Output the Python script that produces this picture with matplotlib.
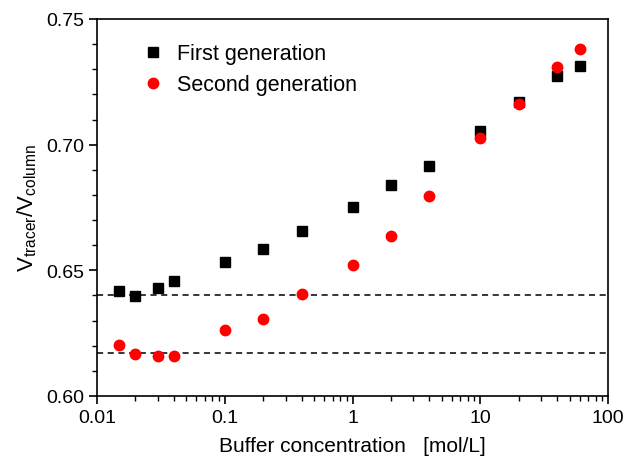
import numpy as np
import matplotlib.pyplot as plt
from matplotlib.ticker import LogLocator, MultipleLocator, FixedFormatter, FixedLocator

plt.rcParams['font.family'] = ['Liberation Sans', 'DejaVu Sans']
plt.rcParams['mathtext.fontset'] = 'custom'
plt.rcParams['mathtext.rm'] = 'Liberation Sans'

# buffer concentration [mol/L]
conc = [0.015, 0.02, 0.03, 0.04, 0.1, 0.2, 0.4, 1, 2, 4, 10, 20, 40, 60]
first_gen = [0.6418, 0.6398, 0.6430, 0.6457, 0.6533, 0.6585, 0.6656,
             0.6752, 0.6840, 0.6915, 0.7054, 0.7170, 0.7273, 0.7313]
second_gen = [0.6203, 0.6167, 0.6159, 0.6159, 0.6262, 0.6306, 0.6406,
              0.6521, 0.6636, 0.6796, 0.7026, 0.7162, 0.7309, 0.7381]
ref_lines = [0.640, 0.617]

fig = plt.figure(figsize=(6.26, 4.64), dpi=100)
ax = fig.add_axes([97/626, 1 - 397/464, (608-97)/626, (397-20)/464])

ax.plot(conc, first_gen, 's', color='black', ms=7, label='First generation', zorder=3)
ax.plot(conc, second_gen, 'o', color='red', ms=7.5, label='Second generation', zorder=4)
for y in ref_lines:
    ax.axhline(y, color='black', ls=(0, (4, 3)), lw=1.1, zorder=2)

ax.set_xscale('log')
ax.set_xlim(0.01, 100)
ax.set_ylim(0.60, 0.75)
ax.xaxis.set_major_locator(FixedLocator([0.01, 0.1, 1, 10, 100]))
ax.xaxis.set_major_formatter(FixedFormatter(['0.01', '0.1', '1', '10', '100']))
ax.xaxis.set_minor_locator(LogLocator(base=10, subs=np.arange(2, 10)))
ax.yaxis.set_major_locator(MultipleLocator(0.05))
ax.yaxis.set_minor_locator(MultipleLocator(0.01))
ax.yaxis.set_major_formatter(plt.FormatStrFormatter('%.2f'))

ax.tick_params(which='major', direction='out', length=6, width=1.2, labelsize=14, top=False, right=False)
ax.tick_params(which='minor', direction='out', length=3.5, width=1.0, top=False, right=False)
for s in ax.spines.values():
    s.set_linewidth(1.2)

ax.set_xlabel('Buffer concentration   [mol/L]', fontsize=15, labelpad=7)
ax.set_ylabel(r'$\mathregular{V_{tracer}/V_{column}}$', fontsize=16, labelpad=5)

ax.legend(loc='upper left', bbox_to_anchor=(0.06, 0.975), frameon=False, fontsize=15.5,
          handletextpad=0.6, borderaxespad=0.3, labelspacing=0.45, handlelength=1.0)

fig.savefig('out.png', dpi=100)
